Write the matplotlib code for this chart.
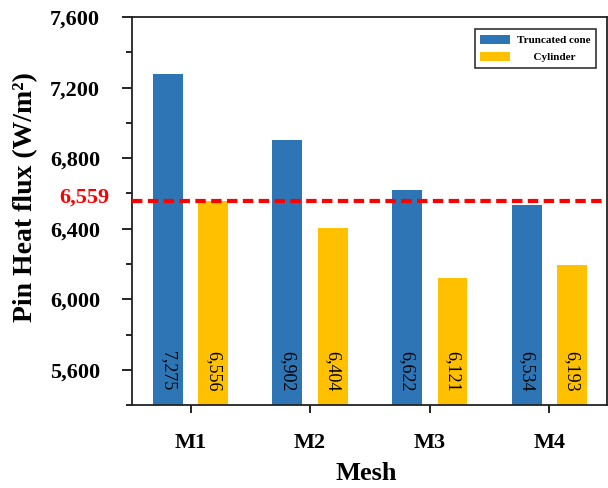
import numpy as np
import matplotlib
matplotlib.use("Agg")
import matplotlib.pyplot as plt
from matplotlib.ticker import MultipleLocator, FuncFormatter

meshes = ["M1", "M2", "M3", "M4"]
truncated_cone = [7275, 6902, 6622, 6534]
cylinder = [6556, 6404, 6121, 6193]
reference_flux = 6559

BLUE, YELLOW, RED = "#2E75B6", "#FFC000", "#FF0000"
SERIF = "Liberation Serif"

fig = plt.figure(figsize=(6.08, 4.88), dpi=100)
ax = fig.add_axes([0.217, 0.170, 0.781, 0.795])

x = np.arange(len(meshes))
w, off = 0.25, 0.19
ax.bar(x - off, truncated_cone, w, color=BLUE, label="Truncated cone", zorder=2)
ax.bar(x + off, cylinder, w, color=YELLOW, label="      Cylinder", zorder=2)

# values written vertically near the bottom of each bar
for xi, v in zip(x - off, truncated_cone):
    ax.text(xi, 5590, f"{v:,}", rotation=-90, ha="center", va="center",
            fontsize=13, family=SERIF, zorder=3)
for xi, v in zip(x + off, cylinder):
    ax.text(xi, 5590, f"{v:,}", rotation=-90, ha="center", va="center",
            fontsize=13, family=SERIF, zorder=3)

ax.axhline(reference_flux, color=RED, lw=3, ls=(0, (2.5, 1.3)), zorder=4)
ax.text(-0.048, reference_flux + 15, f"{reference_flux:,}", transform=ax.get_yaxis_transform(),
        ha="right", va="center", color=RED, fontsize=16, fontweight="bold", family=SERIF)

ax.set_xlim(-0.49, 3.48)
ax.set_ylim(5400, 7600)
ax.yaxis.set_major_locator(MultipleLocator(400))
ax.yaxis.set_minor_locator(MultipleLocator(200))
ax.yaxis.set_major_formatter(FuncFormatter(lambda v, p: f"{int(v):,}" if v >= 5600 else ""))
ax.set_xticks(x)
ax.set_xticklabels(meshes)

for lab in ax.get_yticklabels():
    lab.set_fontfamily(SERIF)
    lab.set_fontweight("bold")
    lab.set_fontsize(16)
for lab in ax.get_xticklabels():
    lab.set_fontfamily(SERIF)
    lab.set_fontweight("bold")
    lab.set_fontsize(16)
ax.tick_params(axis="y", which="major", length=7, width=1.2, pad=16)
ax.tick_params(axis="y", which="minor", length=4, width=1.2)
ax.tick_params(axis="x", which="major", length=6, width=1.2, pad=14)
for s in ax.spines.values():
    s.set_linewidth(1.3)
    s.set_color("#222222")

ax.set_xlabel("Mesh", fontsize=19, fontweight="bold", family=SERIF)
ax.set_ylabel("Pin Heat flux (W/m²)", fontsize=20, fontweight="bold", family=SERIF)
ax.xaxis.set_label_coords(0.493, -0.148)
ax.yaxis.set_label_coords(-0.198, 0.536)

leg = ax.legend(loc="upper right", bbox_to_anchor=(0.982, 0.975),
                prop={"family": SERIF, "weight": "bold", "size": 8},
                frameon=True, fancybox=False, edgecolor="black",
                handlelength=2.7, handleheight=0.9, handletextpad=0.6,
                borderpad=0.5, labelspacing=0.6, borderaxespad=0.2)
leg.get_frame().set_linewidth(1.2)

fig.savefig("out.png", dpi=100)
